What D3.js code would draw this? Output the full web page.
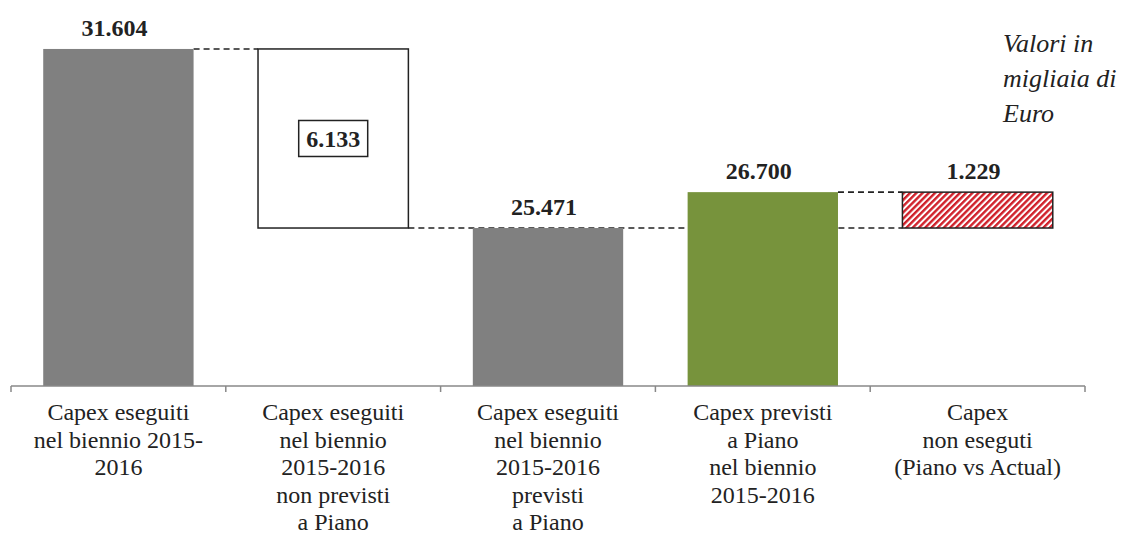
<!DOCTYPE html>
<html>
<head>
<meta charset="utf-8">
<script src="https://cdn.jsdelivr.net/npm/d3@7.9.0/dist/d3.min.js"></script>
<style>
  html, body { margin: 0; padding: 0; background: #fff; }
  svg { display: block; font-family: 'Liberation Serif', 'Times New Roman', serif; }
</style>
</head>
<body>
<svg id="chart" width="1121" height="534"></svg>
<script>
// categories (multi-line axis labels)
const categories = [
  ['Capex eseguiti', 'nel biennio 2015-', '2016'],
  ['Capex eseguiti', 'nel biennio', '2015-2016', 'non previsti', 'a Piano'],
  ['Capex eseguiti', 'nel biennio', '2015-2016', 'previsti', 'a Piano'],
  ['Capex previsti', 'a Piano', 'nel biennio', '2015-2016'],
  ['Capex', 'non eseguti', '(Piano vs Actual)']
];
const values = [31604, 6133, 25471, 26700, 1229];
const kinds = ['total', 'delta', 'total', 'total', 'delta'];
const fills = ['#808080', '#ffffff', '#808080', '#77933c', 'url(#hatch)'];
const note = ['Valori in', 'migliaia di', 'Euro'];

const svg = d3.select('#chart');
const fmt = d3.formatLocale({ decimal: ',', thousands: '.', grouping: [3], currency: ['', ''] }).format(',');

// hatch pattern for the last bar
const defs = svg.append('defs');
const pat = defs.append('pattern')
  .attr('id', 'hatch')
  .attr('patternUnits', 'userSpaceOnUse')
  .attr('width', 4.4)
  .attr('height', 4.4)
  .attr('patternTransform', 'rotate(45)');
pat.append('rect').attr('width', 4.4).attr('height', 4.4).attr('fill', '#fff');
pat.append('rect').attr('width', 2.4).attr('height', 4.4).attr('fill', '#d0202a');

// waterfall start / end for each bar
const yBase = 20060;
const bars = values.map((v, i) => {
  if (kinds[i] === 'delta') {
    const top = values[i - 1];
    return { i, value: v, y0: top - v, y1: top, kind: kinds[i] };
  }
  return { i, value: v, y0: yBase, y1: v, kind: kinds[i] };
});

const x = d3.scaleBand()
  .domain(d3.range(categories.length))
  .range([11, 1085])
  .paddingInner(0.3)
  .paddingOuter(0.15);

const y = d3.scaleLinear()
  .domain([yBase, 32000])
  .range([386, 37.4]);

const step = x.step();
const edge = (i) => x(i) - step * 0.15;

// dashed connectors
const conn = svg.append('g')
  .attr('stroke', '#222')
  .attr('stroke-width', 1.6)
  .attr('stroke-dasharray', '6,4');
conn.append('line')
  .attr('x1', x(0) + x.bandwidth()).attr('x2', x(1))
  .attr('y1', y(values[0])).attr('y2', y(values[0]));
conn.append('line')
  .attr('x1', x(1) + x.bandwidth()).attr('x2', x(4))
  .attr('y1', y(values[2])).attr('y2', y(values[2]));
conn.append('line')
  .attr('x1', x(3) + x.bandwidth()).attr('x2', x(4))
  .attr('y1', y(values[3])).attr('y2', y(values[3]));

// bars
svg.append('g')
  .selectAll('rect')
  .data(bars)
  .join('rect')
  .attr('x', (d) => x(d.i))
  .attr('width', x.bandwidth())
  .attr('y', (d) => y(d.y1))
  .attr('height', (d) => y(d.y0) - y(d.y1))
  .attr('fill', (d) => fills[d.i])
  .attr('stroke', (d) => (d.kind === 'delta' ? '#222' : 'none'))
  .attr('stroke-width', 1.5);

// axis line with ticks
const axis = svg.append('g').attr('stroke', '#888').attr('stroke-width', 1.5);
axis.append('line')
  .attr('x1', 11).attr('x2', 1085)
  .attr('y1', y(yBase)).attr('y2', y(yBase));
d3.range(categories.length + 1).forEach((k) => {
  const xx = k < categories.length ? edge(k) : edge(k - 1) + step;
  axis.append('line')
    .attr('x1', xx).attr('x2', xx)
    .attr('y1', y(yBase)).attr('y2', y(yBase) + 6);
});

// value labels
bars.forEach((d) => {
  const cx = x(d.i) + x.bandwidth() / 2;
  if (d.kind === 'delta' && d.i === 1) {
    const cy = (y(d.y0) + y(d.y1)) / 2;
    svg.append('rect')
      .attr('x', cx - 34.5).attr('y', cy - 18)
      .attr('width', 69).attr('height', 36)
      .attr('fill', '#fff').attr('stroke', '#222').attr('stroke-width', 1.5);
    svg.append('text')
      .attr('x', cx).attr('y', cy + 9)
      .attr('text-anchor', 'middle')
      .attr('font-size', 24).attr('font-weight', 'bold').attr('fill', '#222')
      .text(fmt(d.value));
  } else {
    svg.append('text')
      .attr('x', cx - 4).attr('y', y(d.y1) - 13)
      .attr('text-anchor', 'middle')
      .attr('font-size', 24).attr('font-weight', 'bold').attr('fill', '#222')
      .text(fmt(d.value));
  }
});

// category labels
categories.forEach((lines, i) => {
  const t = svg.append('text')
    .attr('text-anchor', 'middle')
    .attr('font-size', 24)
    .attr('fill', '#222');
  lines.forEach((ln, j) => {
    t.append('tspan')
      .attr('x', x(i) + x.bandwidth() / 2)
      .attr('y', 420 + j * 27.5)
      .text(ln);
  });
});

// note
const nt = svg.append('text')
  .attr('font-size', 26)
  .attr('font-style', 'italic')
  .attr('fill', '#222');
note.forEach((ln, j) => {
  nt.append('tspan').attr('x', 1003).attr('y', 52 + j * 35).text(ln);
});
</script>
</body>
</html>
